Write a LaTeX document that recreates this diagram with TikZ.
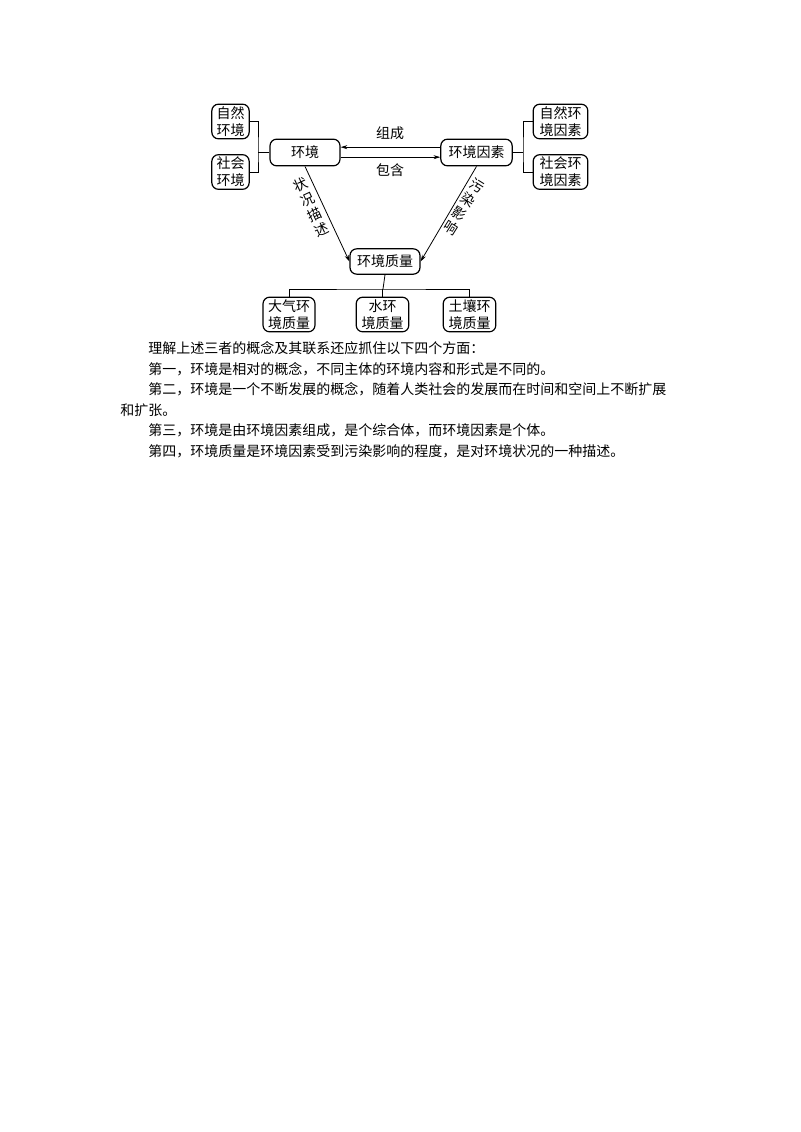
\documentclass[tikz,border=0pt]{standalone}
\usepackage{fontspec}
\newfontfamily\cjk{Noto Sans CJK SC}
\usetikzlibrary{arrows.meta}

\begin{document}
\begin{tikzpicture}[x=0.75pt,y=-0.75pt,font=\cjk\fontsize{10.5}{12.75}\selectfont,
    >={Stealth[length=5pt,width=3pt]},
    box/.style={draw,line width=0.9pt,rounded corners=5pt,inner sep=0pt,
        align=center,minimum height=20pt},
    box2/.style={box,minimum height=26pt},
    wire/.style={line width=0.6pt},
    txt/.style={anchor=west,inner sep=0pt}]

    % Page
    \path[use as bounding box,fill=white] (0,0) rectangle (800,1132);

    % Main concept box(es)
    \node[box,minimum width=52.5pt] (hj) at (305,152.5) {环境};
    \node[box,minimum width=53.5pt] (ys) at (476.5,152.5) {环境因素};
    \node[box,minimum width=52.5pt,minimum height=19pt] (zl) at (385,261.5) {环境质量};

    % Sub item box(es)
    \node[box2,minimum width=28pt] (zrhj) at (230.5,121.5) {自然\\环境};
    \node[box2,minimum width=28pt] (shhj) at (230.5,172) {社会\\环境};
    \node[box2,minimum width=41pt] (zrys) at (560.5,121.5) {自然环\\境因素};
    \node[box2,minimum width=41pt] (shys) at (560.5,172) {社会环\\境因素};
    \node[box2,minimum width=39pt] (dq) at (289,314.5) {大气环\\境质量};
    \node[box2,minimum width=39.5pt] (shui) at (382.5,314.5) {水环\\境质量};
    \node[box2,minimum width=39.5pt] (tr) at (469.5,314.5) {土壤环\\境质量};

    % Bracket(s)
    \coordinate (lb) at (258,152.5);
    \coordinate (rb) at (523,152.5);
    \coordinate (bus) at (383,289);
    \draw[wire] (zrhj.east) -| (lb) |- (shhj.east);
    \draw[wire] (lb) -- (hj.west);
    \draw[wire] (zrys.west) -| (rb) |- (shys.west);
    \draw[wire] (rb) -- (ys.east);
    \draw[wire] (zl.south) -- (bus);
    \draw[wire] (dq.north) |- (bus) -| (tr.north);
    \draw[wire] (shui.north) -- (shui.north |- bus);

    % Arrow label(s)
    \node (zc) at (390,133) {组成};
    \node (bh) at (390,170) {包含};
    \node[rotate=25,align=center,font=\cjk\fontsize{10.5}{12.4}\selectfont] (zkms)
        at (311,207.5) {状\\况\\描\\述};
    \node[rotate=-32,align=center,font=\cjk\fontsize{10.5}{12.4}\selectfont] (wryx)
        at (464,206.5) {污\\染\\影\\响};

    % Arrow(s)
    \draw[wire,->] ([yshift=4pt]ys.west) -- ([yshift=4pt]hj.east);
    \draw[wire,->] ([yshift=-3.5pt]hj.east) -- ([yshift=-3.5pt]ys.west);
    \draw[wire,->] (hj.south) -- (zl.west);
    \draw[wire,->] (ys.south) -- (zl.east);

    % Text line(s)
    \node[txt] (p0) at (148,348.5) {理解上述三者的概念及其联系还应抓住以下四个方面：};
    \node[txt] (p1) at (148,369) {第一，环境是相对的概念，不同主体的环境内容和形式是不同的。};
    \node[txt] (p2) at (148,389.5) {第二，环境是一个不断发展的概念，随着人类社会的发展而在时间和空间上不断扩展};
    \node[txt] (p2b) at (120,410) {和扩张。};
    \node[txt] (p3) at (148,430.5) {第三，环境是由环境因素组成，是个综合体，而环境因素是个体。};
    \node[txt] (p4) at (148,451) {第四，环境质量是环境因素受到污染影响的程度，是对环境状况的一种描述。};

\end{tikzpicture}
\end{document}
